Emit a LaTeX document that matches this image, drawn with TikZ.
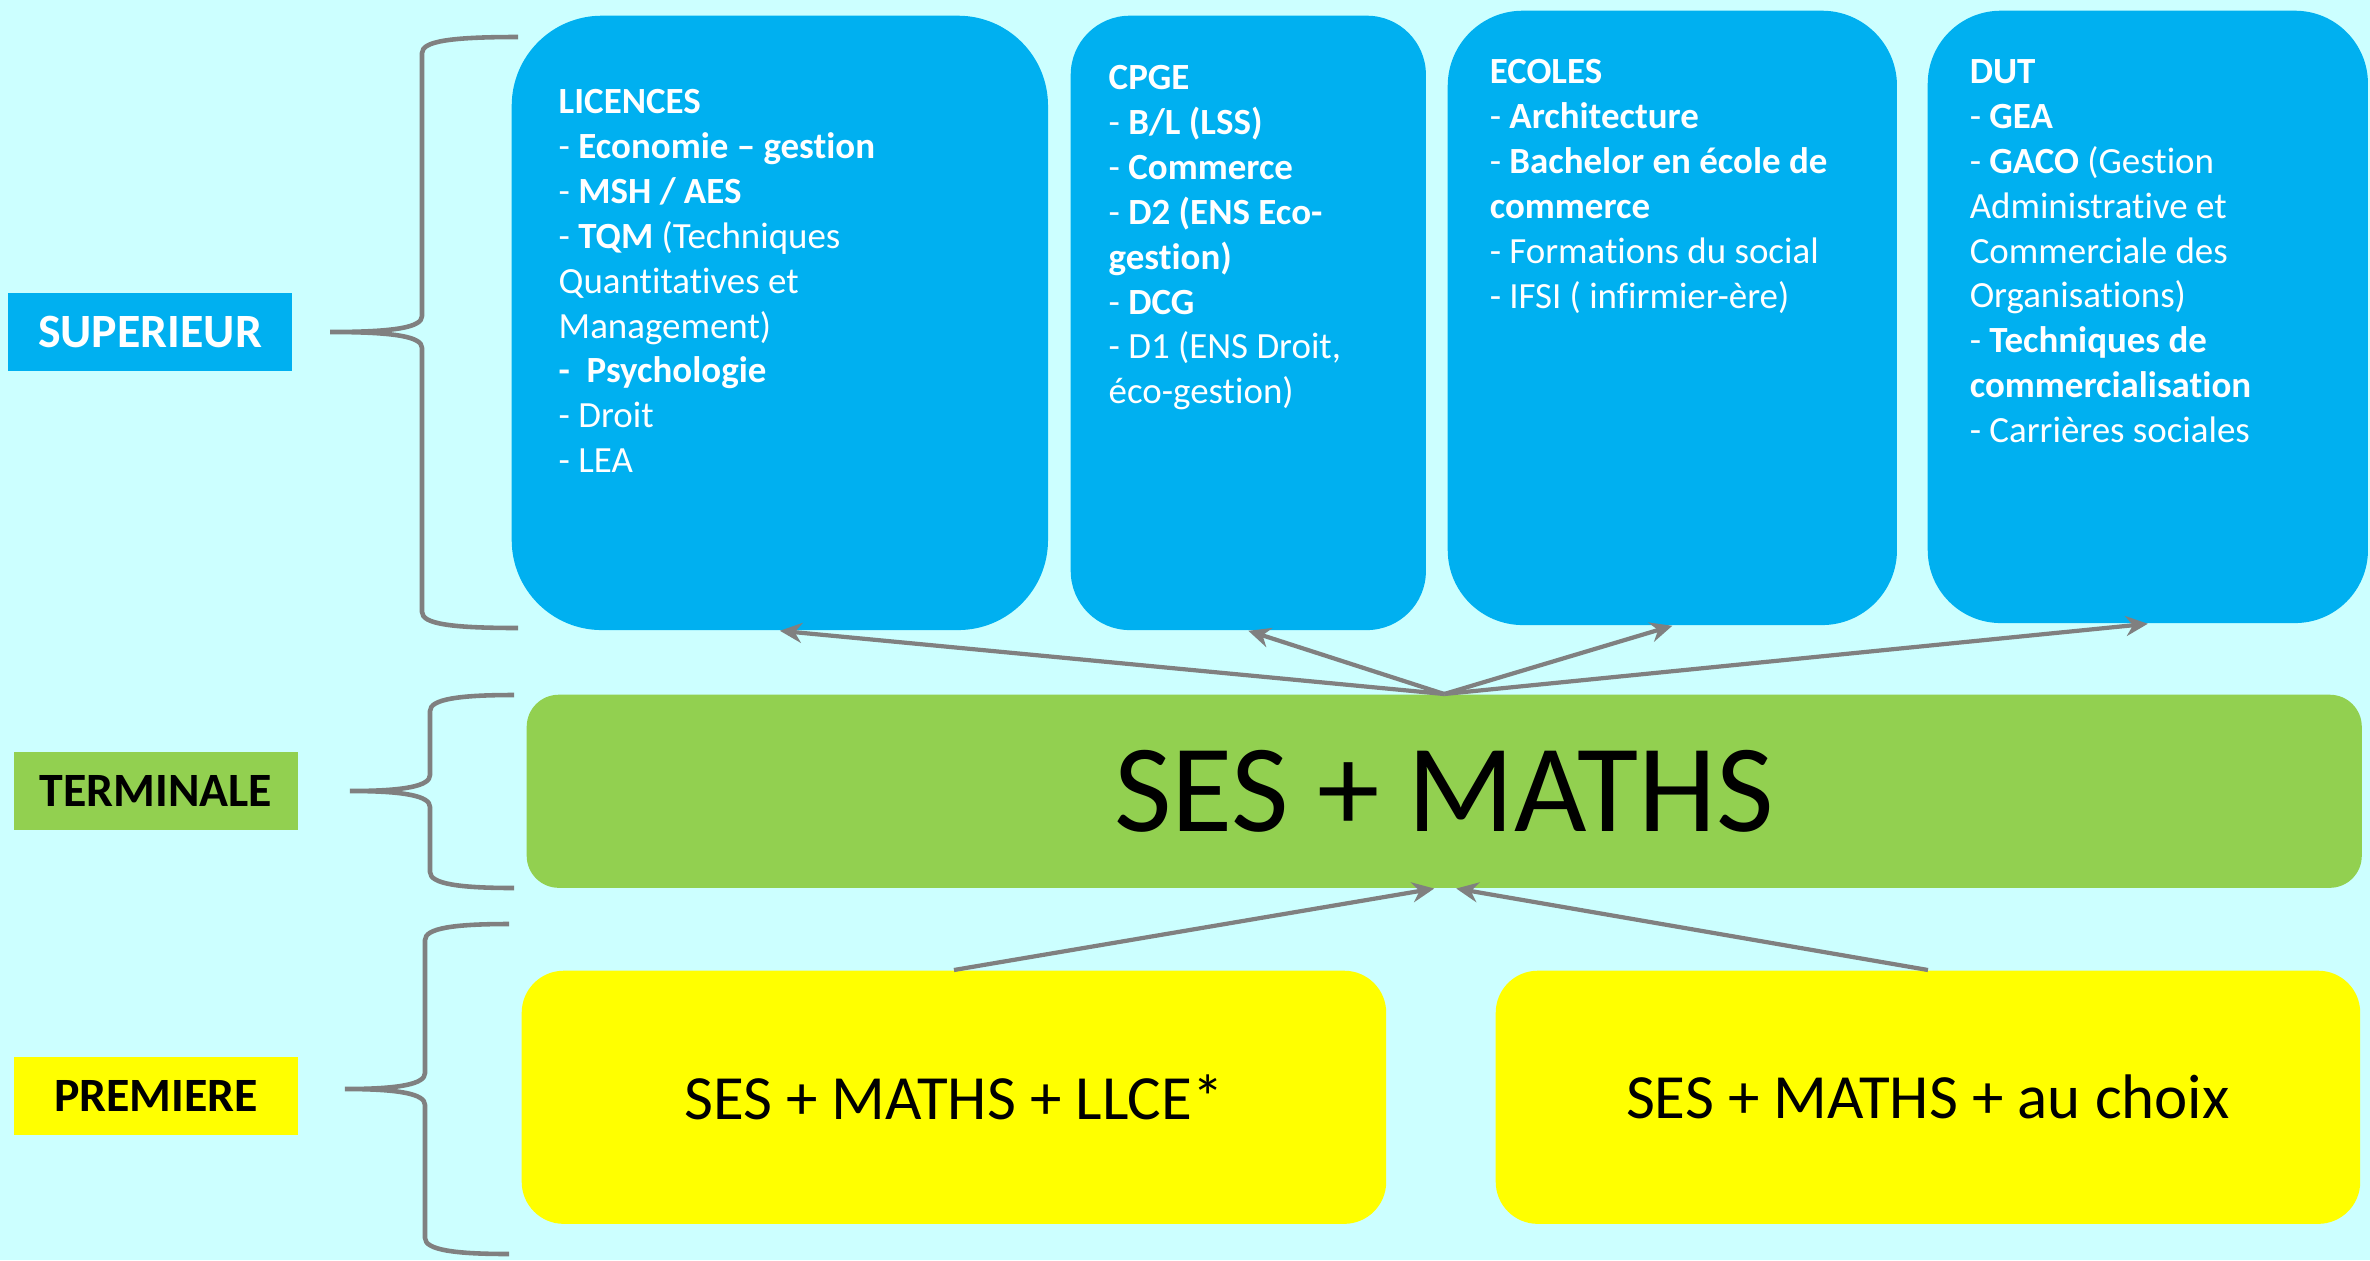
\documentclass[tikz,border=0pt]{standalone}
\usepackage{fontspec}
\setmainfont{Carlito}[Ligatures={TeX,NoCommon}]
\usetikzlibrary{positioning, arrows.meta}

\definecolor{bgcyan}{HTML}{CCFFFF}
\definecolor{supblue}{HTML}{00B0F0}
\definecolor{termgreen}{HTML}{92D050}
\definecolor{premyellow}{HTML}{FFFF00}
\definecolor{linegray}{HTML}{808080}

\begin{document}
\begin{tikzpicture}[
        x=0.01cm, y=-0.01cm,
        level/.style={rectangle, minimum width=2.84cm, minimum height=0.77cm, font=\fontsize{13.6}{16}\selectfont\bfseries},
        supbox/.style={rectangle, fill=supblue, anchor=north west, minimum height=6.14cm},
        listtxt/.style={align=left, text=white, inner sep=0pt, font=\fontsize{10.5}{12.75}\selectfont},
        termbox/.style={rectangle, fill=termgreen, anchor=north west, minimum width=18.34cm, minimum height=1.93cm, rounded corners=0.32cm, font=\fontsize{35.6}{40}\selectfont},
        prembox/.style={rectangle, fill=premyellow, anchor=north west, minimum width=8.64cm, minimum height=2.53cm, rounded corners=0.42cm, font=\fontsize{17.9}{22}\selectfont},
        arrow/.style={draw=linegray, line width=1.2pt, -{Stealth[length=2.2mm, width=2mm]}},
        accolade/.style={draw=linegray, line width=1.3pt}
    ]

    % Background
    \fill[bgcyan] (0,0) rectangle (2370,1260);
    \useasboundingbox (0,0) rectangle (2370,1260);

    % Levels
    \node (superieur) [level, fill=supblue, text=white] at (150,332) {SUPERIEUR};
    \node (terminale) [level, fill=termgreen] at (156,791) {TERMINALE};
    \node (premiere) [level, fill=premyellow] at (156,1096) {PREMIERE};

    % Braces
    \foreach \ya/\ym/\yb/\xv/\xt/\xe in {37/332/628/422/330/518, 695/791/888/430/350/514, 924/1089/1254/425/345/509}
        \draw[accolade] (\xe,\ya) .. controls (\xv+30,\ya) and (\xv,\ya+4) .. (\xv,\ya+16)
            -- (\xv,\ym-16) .. controls (\xv,\ym-5) and (\xv-25,\ym) .. (\xt,\ym)
            .. controls (\xv-25,\ym) and (\xv,\ym+5) .. (\xv,\ym+16)
            -- (\xv,\yb-16) .. controls (\xv,\yb-4) and (\xv+30,\yb) .. (\xe,\yb);

    % Superieur
    \node (licences) [supbox, minimum width=5.36cm, rounded corners=0.9cm] at (511,15) {};
    \node (cpge) [supbox, minimum width=3.55cm, rounded corners=0.59cm] at (1070,15) {};
    \node (ecoles) [supbox, minimum width=4.49cm, rounded corners=0.75cm] at (1447,10) {};
    \node (dut) [supbox, minimum width=4.40cm, minimum height=6.12cm, rounded corners=0.73cm] at (1927,10) {};

    \node (licencestxt) [listtxt, below right=0.74cm and 0.47cm of licences.north west]
        {\textbf{LICENCES}\\- \textbf{Economie – gestion}\\- \textbf{MSH / AES}\\- \textbf{TQM} (Techniques\\Quantitatives et\\Management)\\\textbf{-\ \ Psychologie}\\- Droit\\- LEA};
    \node (cpgetxt) [listtxt, below right=0.50cm and 0.38cm of cpge.north west]
        {\textbf{CPGE}\\- \textbf{B/L (LSS)}\\- \textbf{Commerce}\\- \textbf{D2 (ENS Eco-}\\\textbf{gestion)}\\- \textbf{DCG}\\- D1 (ENS Droit,\\éco-gestion)};
    \node (ecolestxt) [listtxt, below right=0.49cm and 0.42cm of ecoles.north west]
        {\textbf{ECOLES}\\- \textbf{Architecture}\\- \textbf{Bachelor en école de}\\\textbf{commerce}\\- Formations du social\\- IFSI ( infirmier-ère)};
    \node (duttxt) [listtxt, below right=0.49cm and 0.42cm of dut.north west]
        {\textbf{DUT}\\- \textbf{GEA}\\- \textbf{GACO} (Gestion\\Administrative et\\Commerciale des\\Organisations)\\- \textbf{Techniques de}\\\textbf{commercialisation}\\- Carrières sociales};

    % Terminale and Premiere
    \node (ses) [termbox] at (526,694) {SES + MATHS};
    \node (llce) [prembox] at (521,970) {SES + MATHS + LLCE*};
    \node (choix) [prembox] at (1495,970) {SES + MATHS + au choix};

    % Arrows
    \draw [arrow] (ses.north) -- (licences.south);
    \draw [arrow] (ses.north) -- (cpge.south);
    \draw [arrow] (ses.north) -- (ecoles.south);
    \draw [arrow] (ses.north) -- (dut.south);
    \draw [arrow] (llce.north) -- ([xshift=-0.1cm]ses.south);
    \draw [arrow] (choix.north) -- ([xshift=0.12cm]ses.south);

\end{tikzpicture}
\end{document}
